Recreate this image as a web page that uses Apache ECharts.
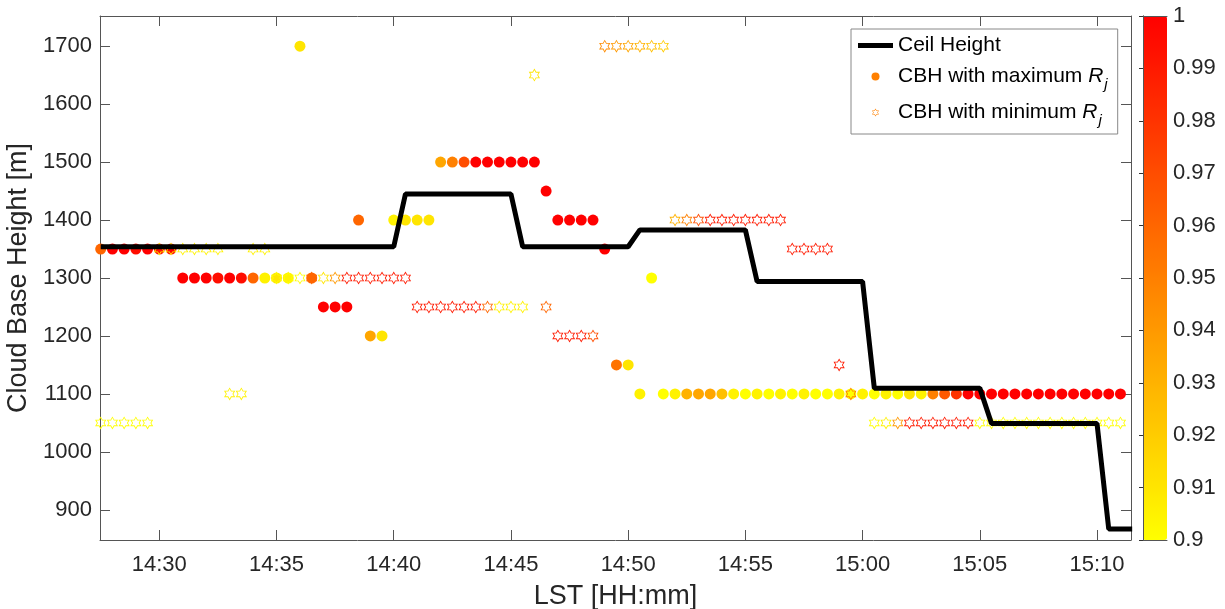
<!DOCTYPE html>
<html>
<head>
<meta charset="utf-8">
<script src="https://cdn.jsdelivr.net/npm/echarts@6/dist/echarts.min.js"></script>
<style>
  html, body { margin: 0; padding: 0; background: #fff; }
  #chart { width: 1225px; height: 609px; }
</style>
</head>
<body>
<div id="chart"></div>
<script>
// sample times, minutes after 14:00 (one every 30 s)
const times = [
  27.5, 28, 28.5, 29, 29.5, 30, 30.5, 31, 31.5, 32, 32.5, 33, 33.5, 34, 34.5, 35, 35.5,
  36, 36.5, 37, 37.5, 38, 38.5, 39, 39.5, 40, 40.5, 41, 41.5, 42, 42.5, 43, 43.5, 44, 44.5,
  45, 45.5, 46, 46.5, 47, 47.5, 48, 48.5, 49, 49.5, 50, 50.5, 51, 51.5, 52, 52.5, 53, 53.5,
  54, 54.5, 55, 55.5, 56, 56.5, 57, 57.5, 58, 58.5, 59, 59.5, 60, 60.5, 61, 61.5, 62, 62.5,
  63, 63.5, 64, 64.5, 65, 65.5, 66, 66.5, 67, 67.5, 68, 68.5, 69, 69.5, 70, 70.5, 71
];

// CBH with maximum Rj
const maxHeight = [
  1350, 1350, 1350, 1350, 1350, 1350, 1350, 1300, 1300, 1300, 1300, 1300, 1300, 1300, 1300, 1300, 1300,
  1700, 1300, 1250, 1250, 1250, 1400, 1200, 1200, 1400, 1400, 1400, 1400, 1500, 1500, 1500, 1500, 1500, 1500,
  1500, 1500, 1500, 1450, 1400, 1400, 1400, 1400, 1350, 1150, 1150, 1100, 1300, 1100, 1100, 1100, 1100, 1100,
  1100, 1100, 1100, 1100, 1100, 1100, 1100, 1100, 1100, 1100, 1100, 1100, 1100, 1100, 1100, 1100, 1100, 1100,
  1100, 1100, 1100, 1100, 1100, 1100, 1100, 1100, 1100, 1100, 1100, 1100, 1100, 1100, 1100, 1100, 1100
];
const maxR = [
  0.96, 1, 1, 0.995, 1, 0.995, 1, 1, 1, 1, 0.995, 1, 0.995, 0.96, 0.905, 0.91, 0.905,
  0.91, 0.96, 1, 1, 1, 0.96, 0.935, 0.91, 0.905, 0.91, 0.91, 0.91, 0.935, 0.95, 0.97, 1, 1, 1,
  1, 1, 1, 1, 1, 1, 1, 1, 1, 0.955, 0.91, 0.905, 0.9, 0.9, 0.905, 0.93, 0.935, 0.935,
  0.925, 0.905, 0.9, 0.905, 0.9, 0.905, 0.9, 0.905, 0.9, 0.9, 0.905, 0.9, 0.905, 0.9, 0.905, 0.9, 0.91, 0.905,
  0.95, 0.965, 0.98, 1, 1, 1, 1, 1, 1, 1, 1, 1, 1, 1, 1, 1, 1
];

// CBH with minimum Rj (null = not visible)
const minHeight = [
  1050, 1050, 1050, 1050, 1050, 1350, 1350, 1350, 1350, 1350, 1350, 1100, 1100, 1350, 1350, 1300, 1300,
  1300, 1300, 1300, 1300, 1300, 1300, 1300, 1300, 1300, 1300, 1250, 1250, 1250, 1250, 1250, 1250, 1250, 1250,
  1250, 1250, 1650, 1250, 1200, 1200, 1200, 1200, 1700, 1700, 1700, 1700, 1700, 1700, 1400, 1400, 1400, 1400,
  1400, 1400, 1400, 1400, 1400, 1400, 1350, 1350, 1350, 1350, 1150, 1100, null, 1050, 1050, 1050, 1050, 1050,
  1050, 1050, 1050, 1050, 1050, 1050, 1050, 1050, 1050, 1050, 1050, 1050, 1050, 1050, 1050, 1050, 1050
];
const minR = [
  0.9, 0.9, 0.9, 0.9, 0.9, 0.905, 0.905, 0.905, 0.905, 0.905, 0.905, 0.905, 0.905, 0.905, 0.905, 0.9, 0.9,
  0.9, 0.96, 0.91, 0.94, 0.99, 0.99, 0.99, 0.99, 0.99, 0.99, 0.99, 0.99, 0.99, 0.99, 0.99, 0.99, 0.96, 0.905,
  0.905, 0.905, 0.91, 0.96, 0.99, 0.99, 0.99, 0.97, 0.945, 0.94, 0.935, 0.93, 0.925, 0.92, 0.93, 0.95, 0.97, 0.99,
  0.99, 0.99, 0.99, 0.99, 0.99, 0.99, 0.99, 0.99, 0.99, 0.99, 0.99, 0.95, null, 0.9, 0.905, 0.94, 0.99, 0.99,
  0.99, 0.99, 0.99, 0.99, 0.9, 0.9, 0.9, 0.9, 0.9, 0.9, 0.9, 0.9, 0.9, 0.9, 0.9, 0.9, 0.9
];

// ceilometer cloud base (corners of the step line)
const ceilTimes = [27.5, 40, 40.5, 45, 45.5, 50, 50.5, 55, 55.5, 60, 60.5, 65, 65.5, 70, 70.5, 71.5];
const ceilHeight = [1354, 1354, 1445, 1445, 1354, 1354, 1383, 1383, 1294, 1294, 1110, 1110, 1049, 1049, 867, 867];

const xTicks = [30, 35, 40, 45, 50, 55, 60, 65, 70];
const xTickLabels = ['14:30', '14:35', '14:40', '14:45', '14:50', '14:55', '15:00', '15:05', '15:10'];
const yTicks = [900, 1000, 1100, 1200, 1300, 1400, 1500, 1600, 1700];
const cbarTicks = [0.9, 0.91, 0.92, 0.93, 0.94, 0.95, 0.96, 0.97, 0.98, 0.99, 1];

const FONT = 'Liberation Sans, Arial, sans-serif';
const AXIS = '#555';
const TXT = '#262626';

// outlined six-pointed star (outer contour + reversed inner contour leaves a hole)
function hexagramRing(k) {
  const R = 100, r = R / Math.sqrt(3);
  const pts = [];
  for (let i = 0; i < 12; i++) {
    const a = Math.PI / 2 + i * Math.PI / 6;
    const rad = i % 2 === 0 ? R : r;
    pts.push([rad * Math.cos(a), -rad * Math.sin(a)]);
  }
  const outer = pts.map((p, i) => (i ? 'L' : 'M') + p[0].toFixed(2) + ' ' + p[1].toFixed(2)).join(' ') + ' Z';
  const inner = pts.slice().reverse().map((p, i) => (i ? 'L' : 'M') + (p[0] * k).toFixed(2) + ' ' + (p[1] * k).toFixed(2)).join(' ') + ' Z';
  return 'path://' + outer + ' ' + inner;
}
const star = hexagramRing(0.74);

const maxData = times.map((t, i) => [t, maxHeight[i], maxR[i]]);
const minData = times.map((t, i) => [t, minHeight[i], minR[i]]).filter(d => d[1] != null);
const ceilData = ceilTimes.map((t, i) => [t, ceilHeight[i]]);

const xMin = 27.47, xMax = 71.45, yMin = 848, yMax = 1752;

function mainX(pos, labels) {
  return {
    type: 'value', gridIndex: 0, position: pos, min: xMin, max: xMax,
    axisLine: { show: true, onZero: false, lineStyle: { color: AXIS, width: 1 } },
    axisTick: { show: true, inside: true, length: 10, customValues: xTicks, lineStyle: { color: AXIS } },
    axisLabel: {
      show: labels, customValues: xTicks, margin: 14,
      color: TXT, fontSize: 22, fontFamily: FONT,
      formatter: v => xTickLabels[xTicks.indexOf(v)]
    },
    splitLine: { show: false }
  };
}
function mainY(pos, labels) {
  return {
    type: 'value', gridIndex: 0, position: pos, min: yMin, max: yMax,
    axisLine: { show: true, onZero: false, lineStyle: { color: AXIS, width: 1 } },
    axisTick: { show: true, inside: true, length: 10, customValues: yTicks, lineStyle: { color: AXIS } },
    axisLabel: {
      show: labels, customValues: yTicks, margin: 8, color: TXT, fontSize: 22, fontFamily: FONT,
      formatter: v => String(v)
    },
    splitLine: { show: false }
  };
}
function cbarX(pos) {
  return {
    type: 'value', gridIndex: 1, position: pos, min: 0, max: 1, z: 10,
    axisLine: { show: true, lineStyle: { color: AXIS, width: 1 } },
    axisTick: { show: false }, axisLabel: { show: false }, splitLine: { show: false }
  };
}

const chart = echarts.init(document.getElementById('chart'));
chart.setOption({
  animation: false,
  backgroundColor: '#fff',
  grid: [
    { left: 100, top: 16, width: 1031, height: 524, outerBoundsMode: 'none', containLabel: false },
    { left: 1143, top: 16, width: 24, height: 524, outerBoundsMode: 'none', containLabel: false }
  ],
  xAxis: [
    Object.assign(mainX('bottom', true), {
      name: 'LST [HH:mm]', nameLocation: 'middle', nameGap: 43,
      nameTextStyle: { fontSize: 27, color: TXT, fontFamily: FONT }
    }),
    mainX('top', false),
    cbarX('bottom'),
    cbarX('top')
  ],
  yAxis: [
    Object.assign(mainY('left', true), {
      name: 'Cloud Base Height [m]', nameLocation: 'middle', nameGap: 55, nameRotate: 90,
      nameTextStyle: { fontSize: 27, color: TXT, fontFamily: FONT }
    }),
    mainY('right', false),
    {
      type: 'value', gridIndex: 1, position: 'left', min: 0.9, max: 1, z: 10,
      axisLine: { show: true, lineStyle: { color: AXIS } },
      axisTick: { show: false }, axisLabel: { show: false }, splitLine: { show: false }
    },
    {
      type: 'value', gridIndex: 1, position: 'right', min: 0.9, max: 1, z: 10,
      axisLine: { show: true, lineStyle: { color: AXIS } },
      axisTick: { show: true, inside: true, length: 4, customValues: cbarTicks, lineStyle: { color: '#333' } },
      axisLabel: { customValues: cbarTicks, margin: 6, color: TXT, fontSize: 22, fontFamily: FONT },
      splitLine: { show: false }
    }
  ],
  visualMap: {
    type: 'continuous', min: 0.9, max: 1, dimension: 2, seriesIndex: [1, 2],
    orient: 'vertical', left: 1143, top: 16, padding: 0,
    itemWidth: 24, itemHeight: 524, calculable: false, hoverLink: false,
    text: null, showLabel: false,
    inRange: { color: ['#ffff00', '#ff0000'] }
  },
  legend: {
    orient: 'vertical', left: 851, top: 29, padding: [6, 10, 6, 7],
    backgroundColor: '#fff', borderColor: '#888', borderWidth: 1, borderRadius: 0,
    itemWidth: 35, itemHeight: 8, itemGap: 10,
    textStyle: {
      fontFamily: FONT, fontSize: 21, color: '#000',
      rich: {
        r: { fontStyle: 'italic', fontSize: 21, fontFamily: FONT, color: '#000' },
        s: { fontStyle: 'italic', fontSize: 15, fontFamily: FONT, color: '#000', padding: [20, 0, 4, 1] }
      }
    },
    formatter: name => name.replace(/ Rj$/, ' {r|R}{s|j}'),
    data: [
      { name: 'Ceil Height', icon: 'path://M0 0H35V5H0Z', itemStyle: { color: '#000' } },
      'CBH with maximum Rj',
      'CBH with minimum Rj'
    ]
  },
  series: [
    {
      name: 'Ceil Height', type: 'line', data: ceilData, symbol: 'none',
      lineStyle: { color: '#000', width: 5 }, itemStyle: { color: '#000' }
    },
    {
      name: 'CBH with maximum Rj', type: 'scatter', data: maxData,
      symbol: 'circle', symbolSize: 11, itemStyle: { color: '#ff8000', opacity: 1 }
    },
    {
      name: 'CBH with minimum Rj', type: 'scatter', data: minData,
      symbol: star, symbolSize: 13, symbolKeepAspect: true, itemStyle: { color: '#ff8000', opacity: 1 }
    }
  ]
});
</script>
</body>
</html>
